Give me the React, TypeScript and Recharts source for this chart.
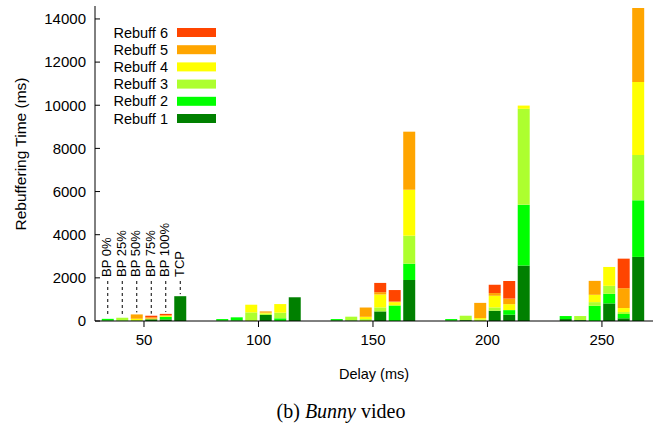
import { BarChart, Bar, XAxis, YAxis, LabelList } from 'recharts';

const FONT = '"Liberation Sans", Arial, Helvetica, sans-serif';
const SERIF = '"Liberation Serif", "Times New Roman", serif';

const delays = [50, 100, 150, 200, 250];
const configs = ['BP 0%', 'BP 25%', 'BP 50%', 'BP 75%', 'BP 100%', 'TCP'];
const rebuffLabels = ['Rebuff 1', 'Rebuff 2', 'Rebuff 3', 'Rebuff 4', 'Rebuff 5', 'Rebuff 6'];
const rebuffColors = ['#008000', '#00ff00', '#adff2f', '#ffff00', '#ffa500', '#ff4500'];
const yTicks = [0, 2000, 4000, 6000, 8000, 10000, 12000, 14000];

// rebuffering time (ms) per delay, stacked as Rebuff 1..6
const bp0 = [
  [20, 80, 0, 0, 0, 0],
  [20, 70, 0, 0, 0, 0],
  [30, 60, 0, 0, 0, 0],
  [20, 70, 0, 0, 0, 0],
  [90, 140, 0, 0, 0, 0],
];
const bp25 = [
  [0, 20, 130, 0, 0, 0],
  [20, 150, 0, 0, 0, 0],
  [20, 10, 170, 0, 0, 0],
  [40, 0, 205, 0, 0, 0],
  [40, 0, 190, 0, 0, 0],
];
const bp50 = [
  [0, 0, 45, 60, 200, 0],
  [0, 0, 400, 355, 0, 0],
  [0, 0, 90, 105, 430, 0],
  [0, 0, 75, 60, 705, 0],
  [0, 705, 170, 340, 645, 0],
];
const bp75 = [
  [80, 0, 0, 30, 60, 75],
  [280, 0, 60, 45, 60, 0],
  [445, 0, 185, 600, 105, 430],
  [475, 0, 155, 540, 125, 385],
  [815, 445, 370, 875, 0, 0],
];
const bp100 = [
  [75, 120, 0, 45, 30, 60],
  [0, 125, 260, 400, 0, 0],
  [0, 720, 0, 155, 30, 530],
  [290, 215, 0, 275, 260, 815],
  [125, 200, 90, 185, 920, 1370],
];
const tcp = [
  [1150, 0, 0, 0, 0, 0],
  [1100, 0, 0, 0, 0, 0],
  [1900, 755, 1300, 2130, 2690, 0],
  [2570, 2815, 4450, 150, 0, 0],
  [2970, 2625, 2100, 3385, 3430, 0],
];

const series = [bp0, bp25, bp50, bp75, bp100, tcp];

const chartData = delays.map((delay, i) => {
  const row: Record<string, number> = { delay };
  series.forEach((s, si) => {
    s[i].forEach((v, r) => {
      row[`c${si}_r${r}`] = v;
    });
  });
  return row;
});

// top non-empty segment of each bar in the first group, that's where the label hangs
const topSegment = series.map(s => {
  let top = 0;
  s[0].forEach((v, r) => {
    if (v > 0) top = r;
  });
  return top;
});

// dashed leader + vertical label above the first group's bars
const makeConfigLabel = (name: string) => (props: any) => {
  if (props.index !== 0) return null;
  const vb = props.viewBox ?? props;
  const cx = vb.x + vb.width / 2;
  const top = Math.min(vb.y, vb.y + vb.height);
  const textBottom = 277;
  return (
    <g>
      <line x1={cx} x2={cx} y1={281} y2={top - 2} stroke="#000" strokeDasharray="3 3" strokeWidth={1} />
      <text
        x={cx - 1}
        y={textBottom}
        transform={`rotate(-90 ${cx - 1} ${textBottom})`}
        fontSize={13}
        fontFamily={FONT}
        fill="#000"
        dominantBaseline="central"
      >
        {name}
      </text>
    </g>
  );
};

export default function App() {
  const legendRows = [...rebuffLabels].reverse();
  const legendColors = [...rebuffColors].reverse();

  return (
    <div style={{ position: 'absolute', left: 0, top: 0, width: 662, height: 428, background: '#fff' }}>
      <BarChart
        width={662}
        height={428}
        data={chartData}
        margin={{ top: 6, right: 9, bottom: 77, left: 35 }}
        barSize={12}
        barGap={2.5}
      >
        <XAxis
          xAxisId="bottom"
          dataKey="delay"
          type="number"
          domain={[28.6, 272.3]}
          ticks={delays}
          tickSize={6}
          tickMargin={7}
          height={30}
          stroke="#000"
          tick={{ fontSize: 15, fill: '#000', fontFamily: FONT }}
        />
        <XAxis
          xAxisId="top"
          orientation="top"
          dataKey="delay"
          type="number"
          domain={[28.6, 272.3]}
          tick={false}
          tickLine={false}
          height={0}
          stroke="#000"
        />
        <YAxis
          yAxisId="left"
          domain={[0, 14600]}
          ticks={yTicks}
          tickSize={-5}
          tickMargin={14}
          width={60}
          stroke="#000"
          tick={{ fontSize: 15, fill: '#000', fontFamily: FONT }}
        />
        <YAxis
          yAxisId="right"
          orientation="right"
          domain={[0, 14600]}
          tick={false}
          tickLine={false}
          width={0}
          stroke="#000"
        />
        {configs.map((name, ci) =>
          rebuffColors.map((color, r) => (
            <Bar
              key={`c${ci}_r${r}`}
              xAxisId="bottom"
              yAxisId="left"
              dataKey={`c${ci}_r${r}`}
              stackId={`c${ci}`}
              fill={color}
              isAnimationActive={false}
            >
              {r === topSegment[ci] && <LabelList dataKey={`c${ci}_r${r}`} content={makeConfigLabel(name)} />}
            </Bar>
          ))
        )}
      </BarChart>

      <svg
        width={662}
        height={428}
        style={{ position: 'absolute', left: 0, top: 0, pointerEvents: 'none' }}
      >
        {/* legend */}
        {legendRows.map((label, i) => {
          const cy = 32.5 + i * 17.2;
          return (
            <g key={label}>
              <text x={168} y={cy} textAnchor="end" dominantBaseline="central" fontSize={14.5} fontFamily={FONT} fill="#000">
                {label}
              </text>
              <rect x={177} y={cy - 4.5} width={39} height={9} fill={legendColors[i]} />
            </g>
          );
        })}

        {/* axis titles */}
        <text
          x={20}
          y={154}
          transform="rotate(-90 20 154)"
          textAnchor="middle"
          dominantBaseline="central"
          fontSize={15.5}
          fontFamily={FONT}
          fill="#000"
        >
          Rebuffering Time (ms)
        </text>
        <text x={374} y={374} textAnchor="middle" dominantBaseline="central" fontSize={14.5} fontFamily={FONT} fill="#000">
          Delay (ms)
        </text>

        {/* caption */}
        <text x={341} y={418} textAnchor="middle" fontSize={20} fontFamily={SERIF} fill="#000">
          (b) <tspan fontStyle="italic">Bunny</tspan> video
        </text>
      </svg>
    </div>
  );
}
